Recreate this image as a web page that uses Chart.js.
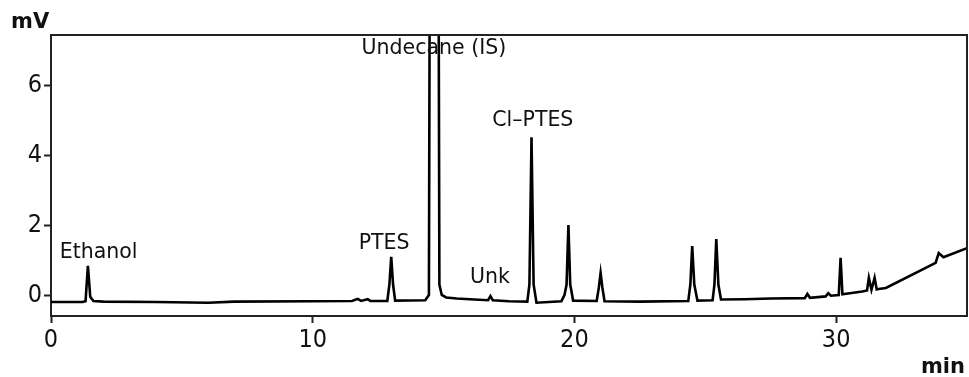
<!DOCTYPE html>
<html>
<head>
<meta charset="utf-8">
<script src="https://cdn.jsdelivr.net/npm/chart.js@4.4.1/dist/chart.umd.min.js"></script>
<style>
html,body{margin:0;padding:0;background:#fff;}
#wrap{width:969px;height:377px;}
</style>
</head>
<body>
<div id="wrap"><canvas id="c" width="969" height="377"></canvas></div>
<script>
// Retention time (min) and detector signal (mV)
const times = [
  0, 1.2, 1.32, 1.41, 1.5, 1.62, 2.0, 4.0, 6.0, 7.0, 10.0, 11.5, 11.72, 11.85, 12.1, 12.2, 12.3,
  12.85, 12.93, 13.0, 13.07, 13.15, 14.3, 14.44, 14.64, 14.84, 14.93, 15.1, 15.5, 16.0,
  16.7, 16.79, 16.88, 17.5, 18.2, 18.28, 18.36, 18.44, 18.55, 19.5, 19.62, 19.7, 19.77, 19.84, 19.95,
  20.85, 20.93, 21.0, 21.07, 21.15, 22.5, 24.35, 24.43, 24.5, 24.58, 24.7, 25.28, 25.35, 25.42, 25.5, 25.6,
  26.5, 27.5, 28.8, 28.9, 29.0, 29.6, 29.7, 29.8, 30.1, 30.17, 30.24, 31.0, 31.18, 31.25, 31.35, 31.47, 31.55,
  31.62, 31.9, 33.8, 33.92, 34.1, 35.0
];
const signal = [
  -0.2, -0.2, -0.18, 0.83, -0.05, -0.17, -0.19, -0.2, -0.22, -0.19, -0.18, -0.17, -0.11, -0.17, -0.12, -0.17, -0.17,
  -0.17, 0.3, 1.09, 0.3, -0.16, -0.15, 0.0, 60, 0.3, 0.0, -0.07, -0.1, -0.12,
  -0.15, -0.03, -0.15, -0.18, -0.19, 0.3, 4.51, 0.3, -0.22, -0.18, 0.0, 0.3, 2.0, 0.3, -0.16,
  -0.17, 0.2, 0.63, 0.2, -0.18, -0.19, -0.17, 0.3, 1.4, 0.3, -0.16, -0.15, 0.3, 1.6, 0.3, -0.13,
  -0.12, -0.1, -0.09, 0.03, -0.08, -0.04, 0.05, -0.02, 0.0, 1.06, 0.02, 0.1, 0.13, 0.49, 0.15, 0.49, 0.16,
  0.17, 0.2, 0.92, 1.2, 1.08, 1.34
];
// Axis ticks
const xTicks = [0, 10, 20, 30];
const yTicks = [0, 2, 4, 6];
// Peak labels: text, time (min), level (mV) of the label centre
const peakNames = ["Ethanol", "PTES", "Undecane (IS)", "Unk", "Cl\u2013PTES"];
const peakTimes = [1.82, 12.73, 14.63, 16.77, 18.41];
const peakLevels = [1.2, 1.47, 7.03, 0.49, 4.97];

const points = times.map((t, i) => ({x: t, y: signal[i]}));

const textPlugin = {
  id: 'texts',
  afterDraw(chart) {
    const ctx = chart.ctx;
    const xs = chart.scales.x, ys = chart.scales.y;
    const a = chart.chartArea;
    ctx.save();
    // frame top and right
    ctx.strokeStyle = '#222';
    ctx.lineWidth = 2;
    ctx.beginPath();
    ctx.moveTo(a.left, a.top);
    ctx.lineTo(a.right, a.top);
    ctx.lineTo(a.right, a.bottom);
    ctx.stroke();
    // peak labels
    ctx.fillStyle = '#111';
    ctx.font = '20.5px "DejaVu Sans"';
    ctx.textAlign = 'center';
    ctx.textBaseline = 'middle';
    peakNames.forEach((n, i) => {
      ctx.fillText(n, xs.getPixelForValue(peakTimes[i]), ys.getPixelForValue(peakLevels[i]));
    });
    // unit labels
    ctx.font = 'bold 21px "DejaVu Sans"';
    ctx.textAlign = 'left';
    ctx.textBaseline = 'alphabetic';
    ctx.fillText('mV', 11, 28);
    ctx.textAlign = 'right';
    ctx.fillText('min', 965, 373);
    ctx.restore();
  }
};

new Chart(document.getElementById('c'), {
  type: 'line',
  data: {
    datasets: [{
      data: points,
      borderColor: '#000',
      borderWidth: 2.6,
      pointRadius: 0,
      tension: 0,
      fill: false
    }]
  },
  options: {
    responsive: false,
    animation: false,
    layout: {padding: {top: 35, right: 2, left: 0, bottom: 0}},
    plugins: {legend: {display: false}, tooltip: {enabled: false}},
    scales: {
      x: {
        type: 'linear',
        min: 0, max: 35,
        afterBuildTicks: s => { s.ticks = xTicks.map(v => ({value: v})); },
        afterFit: s => { s.height = 61; },
        grid: {display: true, drawOnChartArea: false, drawTicks: true, tickLength: 7, tickWidth: 2, color: '#222'},
        border: {display: true, color: '#222', width: 2},
        ticks: {color: '#111', font: {family: 'DejaVu Sans Condensed', size: 25}, padding: 2, maxRotation: 0, autoSkip: false}
      },
      y: {
        type: 'linear',
        min: -0.6, max: 7.43,
        afterBuildTicks: s => { s.ticks = yTicks.map(v => ({value: v})); },
        afterFit: s => { s.width = 51; },
        grid: {display: true, drawOnChartArea: false, drawTicks: true, tickLength: 7, tickWidth: 2, color: '#222'},
        border: {display: true, color: '#222', width: 2},
        ticks: {color: '#111', font: {family: 'DejaVu Sans Condensed', size: 25}, padding: 2, autoSkip: false}
      }
    }
  },
  plugins: [textPlugin]
});
</script>
</body>
</html>
